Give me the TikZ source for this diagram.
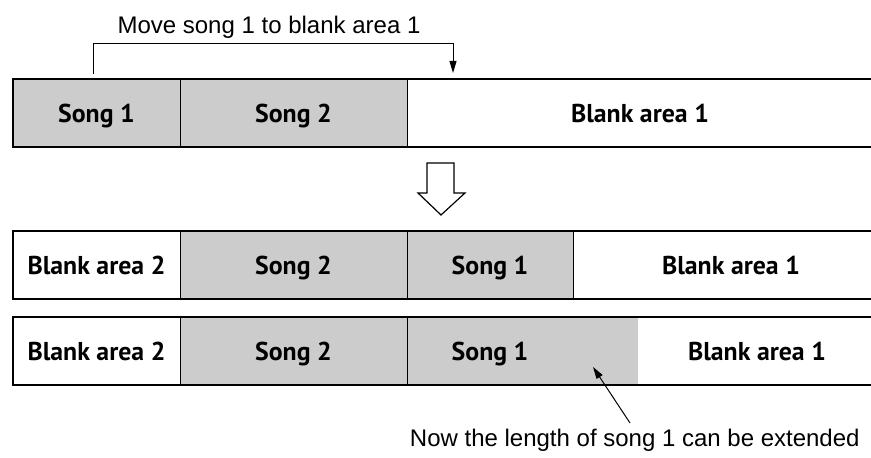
\documentclass[tikz,border=0pt]{standalone}
\usepackage{fontspec}
\setmainfont{Liberation Sans}
\newfontfamily\labelfont{PT Sans}
\usetikzlibrary{arrows.meta}
\definecolor{songgray}{RGB}{204,204,204}
\tikzset{
  segtext/.style={font=\labelfont\bfseries\fontsize{12.9}{15}\selectfont, anchor=base},
  notetext/.style={font=\fontsize{12}{14}\selectfont, inner sep=0pt},
  pointer/.style={line width=0.5pt, -{Triangle[length=6pt,width=3.5pt]}}
}
% one part of a bar: name, left x, right x, bottom y, fill, label
\newcommand{\segment}[6]{%
  \fill[#5] (#2,#4) rectangle (#3,#4+68);
  \draw[line width=0.5pt] (#2,#4) -- (#2,#4+68);
  \node[segtext] (#1) at ({(#2+#3)/2},#4+24) {#6};}
% thick outline of a bar, open to the right
\newcommand{\barframe}[1]{%
  \draw[line width=1.2pt] (900,#1) -- (13,#1) -- (13,#1+68) -- (900,#1+68);}

\begin{document}
\begin{tikzpicture}[x=0.5pt, y=0.5pt]
  \useasboundingbox (0,0) rectangle (871,458);
  % before the move
  \segment{songa}{13}{180}{311}{songgray}{Song 1}
  \segment{songb}{180}{407}{311}{songgray}{Song 2}
  \segment{blanka}{407}{873}{311}{white}{Blank area 1}
  \barframe{311}
  \node[notetext] (move) at (269,431) {Move song 1 to blank area 1};
  \coordinate (from) at (93,384);
  \coordinate (to) at (453,385);
  \draw[pointer] (from) -- ++(0,30) -| (to);
  % hollow arrow
  \draw[line width=0.6pt, fill=white] (427,295) -- (454,295) -- (454,265) -- (465,265)
        -- (441,243) -- (418,265) -- (427,265) -- cycle;
  % after the move
  \segment{blankb}{13}{180}{159}{white}{Blank area 2}
  \segment{songc}{180}{407}{159}{songgray}{Song 2}
  \segment{songd}{407}{573}{159}{songgray}{Song 1}
  \segment{blankc}{573}{889}{159}{white}{Blank area 1}
  \barframe{159}
  % song 1 extended
  \segment{blankd}{13}{180}{73}{white}{Blank area 2}
  \segment{songe}{180}{407}{73}{songgray}{Song 2}
  \segment{songf}{407}{638}{73}{songgray}{}
  \node[segtext] (songlabel) at (490,97) {Song 1};
  \fill[white] (638,73) rectangle (876,141);
  \node[segtext] (blanke) at (757,97) {Blank area 1};
  \barframe{73}
  \node[notetext, anchor=base east] (extend) at (860,11) {Now the length of song 1 can be extended};
  \coordinate (ptail) at (630,35);
  \coordinate (ptip) at (593,91);
  \draw[pointer] (ptail) -- (ptip);
\end{tikzpicture}
\end{document}
